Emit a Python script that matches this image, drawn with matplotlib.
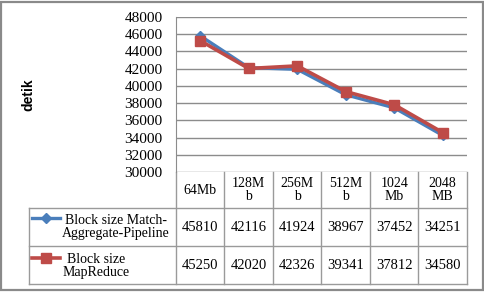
import matplotlib
matplotlib.use('Agg')
import matplotlib.pyplot as plt
from matplotlib.lines import Line2D
from matplotlib.patches import Rectangle

# data
sizes = ['64Mb', '128M\nb', '256M\nb', '512M\nb', '1024\nMb', '2048\nMB']
pipeline = [45810, 42116, 41924, 38967, 37452, 34251]
mapreduce = [45250, 42020, 42326, 39341, 37812, 34580]
series_names = ['Block size Match-\nAggregate-Pipeline', 'Block size\nMapReduce']
yticks = list(range(30000, 48001, 2000))

blue = '#4A7EBB'
red = '#BE4B48'
grid_c = '#8C8C8C'
serif = ['Liberation Serif', 'DejaVu Serif']

W, H = 485, 292
fig = plt.figure(figsize=(W / 100, H / 100), dpi=100)

# pixel layout
left, right, top, bottom = 176, 467, 17, 172
hdr_bot, row1_bot, row2_bot = 207.5, 246, 284
lab_left = 29

# background axes in pixel coords for border and table
bg = fig.add_axes([0, 0, 1, 1])
bg.set_xlim(0, W)
bg.set_ylim(H, 0)
bg.axis('off')
bg.add_patch(Rectangle((1.5, 1.5), W - 3.5, H - 3.5, fill=False, ec='#8A8A8A', lw=1.6))

ax = fig.add_axes([left / W, (H - bottom) / H, (right - left) / W, (bottom - top) / H])
x = list(range(len(sizes)))
ax.plot(x, pipeline, color=blue, lw=2.4, marker='D', ms=5.5, mfc=blue, mec=blue, zorder=3)
ax.plot(x, mapreduce, color=red, lw=2.6, marker='s', ms=7, mfc=red, mec=red, zorder=4)
ax.set_xlim(-0.5, len(sizes) - 0.5)
ax.set_ylim(30000, 48000)
ax.set_yticks(yticks)
ax.set_yticklabels([str(v) for v in yticks], fontsize=11, family=serif)
ax.tick_params(axis='y', length=0, pad=9.5)
ax.set_xticks([])
ax.grid(axis='y', color=grid_c, lw=1.0)
ax.set_axisbelow(True)
for s in ['top', 'right', 'bottom']:
    ax.spines[s].set_visible(False)
ax.spines['left'].set_color(grid_c)
ax.patch.set_alpha(0)

fig.text(28 / W, 1 - 95 / H, 'detik', rotation=90, ha='center', va='center',
         fontsize=10, fontweight='bold', family=['Liberation Sans', 'DejaVu Sans'])

# data table
tc = '#9A9A9A'
colw = (right - left) / len(sizes)
for i in range(len(sizes) + 1):
    xx = left + i * colw
    bg.plot([xx, xx], [bottom, row2_bot], color=tc, lw=1.0)
bg.plot([lab_left, lab_left], [hdr_bot, row2_bot], color=tc, lw=1.0)
for yy in [hdr_bot, row1_bot, row2_bot]:
    bg.plot([lab_left, right], [yy, yy], color=tc, lw=1.0)

for i, s in enumerate(sizes):
    cx = left + (i + 0.5) * colw
    bg.text(cx, (bottom + hdr_bot) / 2 + 0.5, s, ha='center', va='center',
            fontsize=10, family=serif, linespacing=1.0)
    bg.text(cx, (hdr_bot + row1_bot) / 2 + 0.5, str(pipeline[i]), ha='center', va='center',
            fontsize=10.5, family=serif)
    bg.text(cx, (row1_bot + row2_bot) / 2 + 0.5, str(mapreduce[i]), ha='center', va='center',
            fontsize=10.5, family=serif)

# legend keys inside row labels
bg.add_line(Line2D([32, 46, 60], [218, 218, 218], color=blue, lw=2.4, marker='D', ms=5,
                   markevery=[1], mfc=blue, mec=blue))
bg.add_line(Line2D([32, 46, 60], [258, 258, 258], color=red, lw=2.6, marker='s', ms=6.5,
                   markevery=[1], mfc=red, mec=red))
bg.text(116, (hdr_bot + row1_bot) / 2 + 0.5, series_names[0], ha='center', va='center',
        fontsize=10, family=serif, linespacing=1.05)
bg.text(96, (row1_bot + row2_bot) / 2 + 1, series_names[1], ha='center', va='center',
        fontsize=10, family=serif, linespacing=1.05)

fig.savefig('out.png', dpi=100)
